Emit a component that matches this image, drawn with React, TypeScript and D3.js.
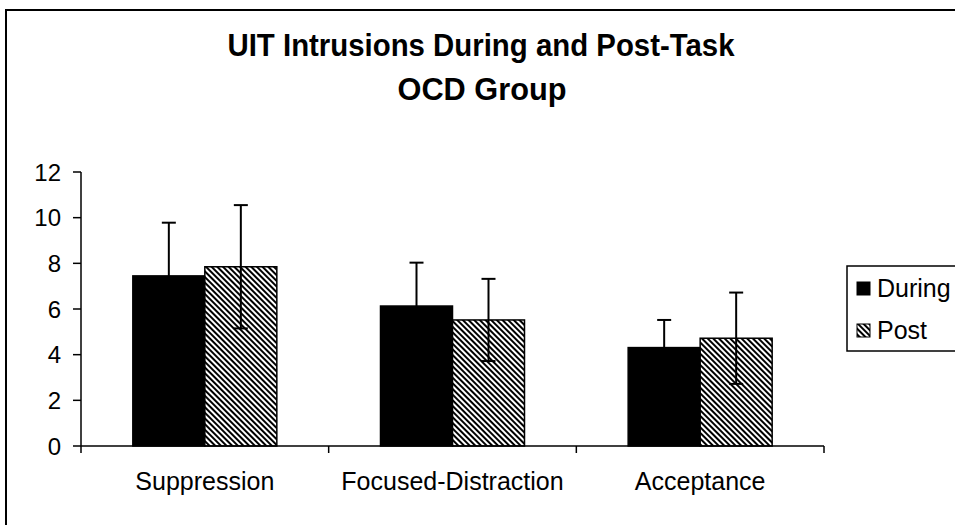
import * as d3 from 'd3';

const categories = ['Suppression', 'Focused-Distraction', 'Acceptance'];
const seriesNames = ['During', 'Post'];
const duringValues = [7.45, 6.13, 4.31];
const duringErrors = [2.33, 1.9, 1.21];
const postValues = [7.85, 5.52, 4.72];
const postErrors = [2.7, 1.8, 2.0];
const yTicks = [0, 2, 4, 6, 8, 10, 12];

const W = 955;
const H = 525;
const plot = { left: 81, right: 824, top: 172, bottom: 446 };
const font = "'Liberation Sans', Arial, sans-serif";

export default function App() {
	const x = d3.scaleBand<string>().domain(categories).range([plot.left, plot.right]);
	const x1 = d3
		.scaleBand<string>()
		.domain(seriesNames)
		.range([0, x.bandwidth()])
		.paddingInner(0)
		.paddingOuter(0.72);
	const y = d3.scaleLinear().domain([0, 12]).range([plot.bottom, plot.top]);

	const series = [
		{ name: 'During', values: duringValues, errors: duringErrors, fill: '#000' },
		{ name: 'Post', values: postValues, errors: postErrors, fill: 'url(#hatch)' },
	];

	return (
		<svg
			width={W}
			height={H}
			style={{ position: 'absolute', left: 0, top: 0, background: '#fff' }}
			fontFamily={font}
		>
			<defs>
				<pattern
					id='hatch'
					patternUnits='userSpaceOnUse'
					width={4}
					height={4}
					patternTransform='rotate(-45)'
				>
					<rect width={4} height={4} fill='#fff' />
					<rect width={2} height={4} fill='#000' />
				</pattern>
			</defs>

			{/* outer chart border, runs off the right and bottom */}
			<rect x={6} y={10} width={1000} height={600} fill='none' stroke='#000' strokeWidth={2} />

			{/* title */}
			<text x={481} y={56} textAnchor='middle' fontSize={32} fontWeight='bold' textLength={507} lengthAdjust='spacingAndGlyphs'>
				UIT Intrusions During and Post-Task
			</text>
			<text x={482} y={100} textAnchor='middle' fontSize={32} fontWeight='bold' textLength={169} lengthAdjust='spacingAndGlyphs'>
				OCD Group
			</text>

			{/* y axis */}
			<line x1={plot.left} x2={plot.left} y1={plot.top} y2={plot.bottom + 7} stroke='#000' strokeWidth={1.5} />
			{yTicks.map((t) => (
				<g key={t}>
					<line x1={plot.left - 8} x2={plot.left} y1={y(t)} y2={y(t)} stroke='#000' strokeWidth={1.5} />
					<text x={61} y={y(t)} dy='0.36em' textAnchor='end' fontSize={24}>
						{t}
					</text>
				</g>
			))}

			{/* bars */}
			{series.map((s) =>
				categories.map((c, i) => {
					const bx = x(c)! + x1(s.name)!;
					return (
						<rect
							key={s.name + c}
							x={bx}
							y={y(s.values[i])}
							width={x1.bandwidth()}
							height={y(0) - y(s.values[i])}
							fill={s.fill}
							stroke='#000'
							strokeWidth={1.5}
						/>
					);
				})
			)}

			{/* error bars */}
			{series.map((s) =>
				categories.map((c, i) => {
					const cx = x(c)! + x1(s.name)! + x1.bandwidth() / 2;
					const hi = y(s.values[i] + s.errors[i]);
					const lo = y(s.values[i] - s.errors[i]);
					return (
						<g key={'e' + s.name + c} stroke='#000' strokeWidth={2}>
							<line x1={cx} x2={cx} y1={hi} y2={lo} />
							<line x1={cx - 7} x2={cx + 7} y1={hi} y2={hi} />
							<line x1={cx - 7} x2={cx + 7} y1={lo} y2={lo} />
						</g>
					);
				})
			)}

			{/* x axis */}
			<line x1={plot.left} x2={plot.right} y1={plot.bottom} y2={plot.bottom} stroke='#000' strokeWidth={1.5} />
			{categories.map((c) => (
				<g key={c}>
					<line
						x1={x(c)! + x.bandwidth()}
						x2={x(c)! + x.bandwidth()}
						y1={plot.bottom}
						y2={plot.bottom + 7}
						stroke='#000'
						strokeWidth={1.5}
					/>
					<text x={x(c)! + x.bandwidth() / 2} y={490} textAnchor='middle' fontSize={25}>
						{c}
					</text>
				</g>
			))}

			{/* legend */}
			<rect x={847} y={266} width={200} height={85} fill='#fff' stroke='#000' strokeWidth={1.5} />
			{series.map((s, i) => (
				<g key={'l' + s.name} transform={`translate(857,${288 + i * 42})`}>
					<rect x={0} y={-6} width={13} height={13} fill={s.fill} stroke='#000' strokeWidth={1} />
					<text x={20} y={0} dy='0.36em' fontSize={25}>
						{s.name}
					</text>
				</g>
			))}
		</svg>
	);
}
